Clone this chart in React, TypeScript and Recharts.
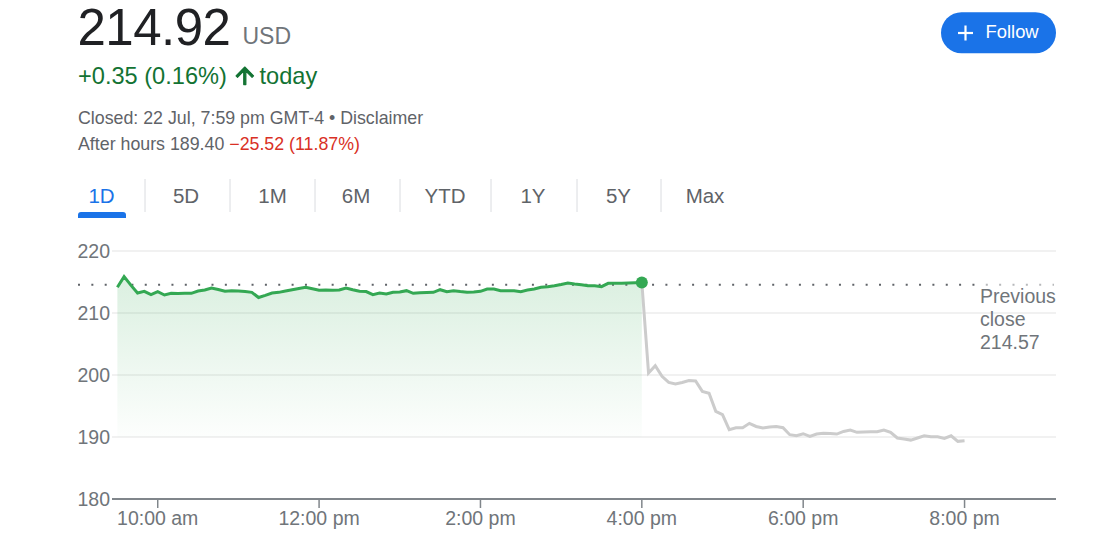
import React from 'react';
import {
  ComposedChart,
  Area,
  Line,
  XAxis,
  YAxis,
  CartesianGrid,
  ReferenceLine,
  ReferenceDot,
} from 'recharts';

const FONT = '"Liberation Sans", Arial, Helvetica, sans-serif';

// Regular session prices, 9:30 am – 4:00 pm, every 5 minutes
const regularPrices = [
  214.15, 215.86, 214.5, 213.23, 213.5, 212.96, 213.44, 212.9, 213.17, 213.15,
  213.2, 213.17, 213.55, 213.7, 214.03, 213.8, 213.5, 213.6, 213.55, 213.45,
  213.33, 212.5, 212.85, 213.23, 213.33, 213.55, 213.76, 213.95, 214.14, 213.9,
  213.66, 213.7, 213.68, 213.7, 214.03, 213.75, 213.5, 213.45, 212.96, 213.23,
  213.06, 213.33, 213.39, 213.6, 213.17, 213.25, 213.3, 213.33, 213.76, 213.44,
  213.6, 213.45, 213.33, 213.4, 213.5, 213.87, 213.87, 213.6, 213.6, 213.6,
  213.44, 213.7, 213.87, 214.14, 214.25, 214.4, 214.6, 214.84, 214.68, 214.55,
  214.4, 214.4, 214.25, 214.79, 214.79, 214.8, 214.84, 214.88, 214.92,
];

// After-hours prices, 4:00 pm – 8:00 pm, every 5 minutes
const afterHoursPrices = [
  214.92, 200.32, 201.5, 199.8, 198.8, 198.55, 198.8, 199.1, 199.03, 197.36,
  197.05, 194.14, 193.6, 191.18, 191.5, 191.5, 192.2, 191.7, 191.45, 191.6,
  191.7, 191.5, 190.37, 190.2, 190.53, 190.1, 190.48, 190.6, 190.55, 190.48,
  190.9, 191.13, 190.75, 190.8, 190.86, 190.86, 191.13, 190.75, 189.84, 189.68,
  189.5, 189.84, 190.2, 190.05, 190.05, 189.78, 190.2, 189.3, 189.4,
];

const sessionStartMin = 570; // 9:30 am
const closeMin = 960; // 4:00 pm
const stepMin = 5;
const previousClose = 214.57;
const lastPrice = 214.92;

const xTickMinutes = [600, 720, 840, 960, 1080, 1200];
const xTickLabels = ['10:00 am', '12:00 pm', '2:00 pm', '4:00 pm', '6:00 pm', '8:00 pm'];
const yTicks = [180, 190, 200, 210, 220];
const xDomain = [566, 1268];
const yDomain = [180, 220];

const tabLabels = ['1D', '5D', '1M', '6M', 'YTD', '1Y', '5Y', 'Max'];
const tabCenters = [101.5, 186, 272.5, 356, 445, 533, 618.5, 705];
const tabSeparators = [145, 230, 315, 400, 491, 577, 661];

type Row = { t: number; reg?: number; ah?: number };
const data: Row[] = [];
regularPrices.forEach((v, i) => data.push({ t: sessionStartMin + i * stepMin, reg: v }));
afterHoursPrices.forEach((v, i) => {
  if (i === 0) {
    data[data.length - 1].ah = v;
  } else {
    data.push({ t: closeMin + i * stepMin, ah: v });
  }
});

const GRAY = '#70757a';

const PrevCloseShape = (props: any) => {
  const { x1, y1, x2 } = props;
  const y = y1;
  return (
    <g>
      <line
        x1={x1 - 34}
        y1={y}
        x2={x2 - 2}
        y2={y}
        stroke="#5f6368"
        strokeWidth={2}
        strokeDasharray="2 11.35"
      />
      <rect x={x2 - 78} y={y - 4} width={80} height={8} fill="#ffffff" opacity={0.55} />
      <text x={x2 - 76} y={y + 18} fontSize={19.5} fill={GRAY} fontFamily={FONT}>
        Previous
      </text>
      <text x={x2 - 76} y={y + 41} fontSize={19.5} fill={GRAY} fontFamily={FONT}>
        close
      </text>
      <text x={x2 - 76} y={y + 64} fontSize={19.5} fill={GRAY} fontFamily={FONT}>
        {previousClose.toFixed(2)}
      </text>
    </g>
  );
};

const Header = () => (
  <svg
    width={1117}
    height={240}
    style={{ position: 'absolute', left: 0, top: 0, pointerEvents: 'none' }}
    fontFamily={FONT}
  >
    <text x={77.5} y={45} fontSize={51} fill="#202124" letterSpacing={-0.5}>
      214.92
    </text>
    <text x={242.5} y={44} fontSize={23} fill={GRAY}>
      USD
    </text>
    <text x={78} y={84} fontSize={23.6} fill="#137333">
      +0.35 (0.16%)
    </text>
    <path
      d="M4 12l1.41 1.41L11 7.83V20h2V7.83l5.58 5.59L20 12l-8-8-8 8z"
      fill="#137333"
      stroke="#137333"
      strokeWidth={1}
      strokeLinejoin="round"
      transform="translate(231.6 62.6) scale(1.1)"
    />
    <text x={259.5} y={84} fontSize={23.6} fill="#137333">
      today
    </text>
    <text x={78} y={123.5} fontSize={17.8} fill="#5f6368">
      Closed: 22 Jul, 7:59 pm GMT-4 • Disclaimer
    </text>
    <text x={78} y={150} fontSize={17.8} fill="#5f6368">
      After hours 189.40 <tspan fill="#d93025">−25.52 (11.87%)</tspan>
    </text>

    {tabLabels.map((lab, i) => (
      <text
        key={lab}
        x={tabCenters[i]}
        y={203}
        fontSize={20.5}
        textAnchor="middle"
        fill={i === 0 ? '#1a73e8' : '#5f6368'}
      >
        {lab}
      </text>
    ))}
    {tabSeparators.map((sx) => (
      <line key={sx} x1={sx} y1={179} x2={sx} y2={212} stroke="#dadce0" strokeWidth={1} />
    ))}
    <path d="M78 218 L78 215 Q78 212 81 212 L123 212 Q126 212 126 215 L126 218 Z" fill="#1a73e8" />

    <rect x={941} y={12.3} width={115} height={41} rx={20.5} fill="#1a73e8" />
    <line x1={958} y1={33} x2={973} y2={33} stroke="#ffffff" strokeWidth={2.2} />
    <line x1={965.5} y1={25.5} x2={965.5} y2={40.5} stroke="#ffffff" strokeWidth={2.2} />
    <text x={985.5} y={38} fontSize={18.4} fill="#ffffff">
      Follow
    </text>
  </svg>
);

export default function App() {
  const tickStyle = { fontSize: 19.5, fill: GRAY, fontFamily: FONT };
  return (
    <div style={{ position: 'absolute', left: 0, top: 0, width: 1117, height: 547, background: '#fff' }}>
      <div style={{ position: 'absolute', left: 0, top: 0 }}>
        <ComposedChart
          width={1117}
          height={547}
          data={data}
          margin={{ top: 251, right: 61, bottom: 0, left: 0 }}
          style={{ fontFamily: FONT }}
        >
          <defs>
            <linearGradient id="regFill" x1="0" y1="0" x2="0" y2="1">
              <stop offset="0%" stopColor="#34a853" stopOpacity={0.3} />
              <stop offset="100%" stopColor="#34a853" stopOpacity={0.02} />
            </linearGradient>
          </defs>
          <CartesianGrid vertical={false} stroke="#ececec" strokeWidth={1.3} />
          <XAxis
            type="number"
            dataKey="t"
            domain={xDomain}
            ticks={xTickMinutes}
            tickFormatter={(v: number) => xTickLabels[xTickMinutes.indexOf(v)] ?? ''}
            height={48}
            tick={tickStyle}
            tickSize={9}
            tickMargin={3}
            axisLine={{ stroke: '#80868b', strokeWidth: 1.8 }}
            tickLine={{ stroke: '#80868b', strokeWidth: 1.5 }}
            allowDataOverflow
          />
          <YAxis
            type="number"
            domain={yDomain}
            ticks={yTicks}
            width={112}
            tick={tickStyle}
            tickSize={0}
            tickMargin={2}
            axisLine={false}
            tickLine={false}
            allowDataOverflow
          />
          <ReferenceLine y={previousClose} shape={PrevCloseShape} />
          <Area
            type="linear"
            dataKey="reg"
            baseValue={190}
            stroke="none"
            fill="url(#regFill)"
            isAnimationActive={false}
            connectNulls={false}
          />
          <Line
            type="linear"
            dataKey="ah"
            stroke="#cccccc"
            strokeWidth={3}
            dot={false}
            activeDot={false}
            isAnimationActive={false}
            connectNulls={false}
          />
          <Line
            type="linear"
            dataKey="reg"
            stroke="#34a853"
            strokeWidth={3}
            dot={false}
            activeDot={false}
            isAnimationActive={false}
            connectNulls={false}
          />
          <ReferenceDot x={closeMin} y={lastPrice} r={6} fill="#34a853" stroke="none" />
        </ComposedChart>
      </div>
      <Header />
    </div>
  );
}
